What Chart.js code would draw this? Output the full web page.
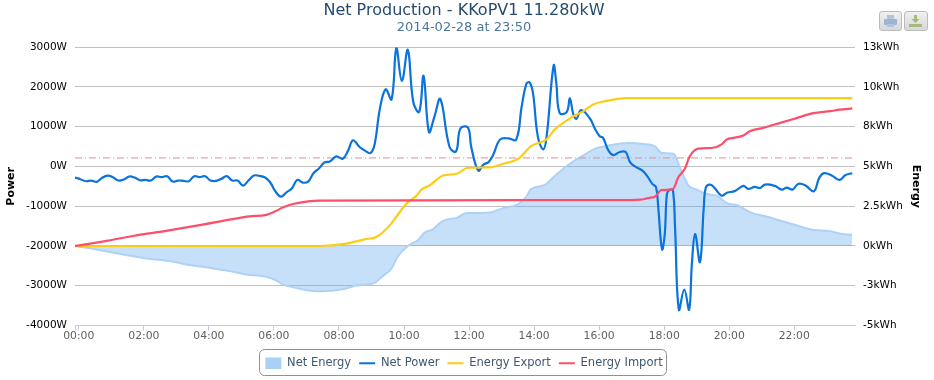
<!DOCTYPE html>
<html>
<head>
<meta charset="utf-8">
<title>Net Production</title>
<script src="https://cdn.jsdelivr.net/npm/chart.js@4"></script>
<style>
  html, body { margin: 0; padding: 0; background: #fff; }
  #wrap { position: relative; width: 934px; height: 380px; overflow: hidden; }
  canvas { display: block; }
  .btn {
    position: absolute; top: 11px; height: 18px; width: 21px;
    border: 1px solid #bcbcbc; border-radius: 3px;
    background: linear-gradient(#f0f0f0, #d8d8d8);
  }
  .btn svg { display: block; margin: 1px 2px; }
</style>
</head>
<body>
<div id="wrap">
  <canvas id="chart" width="934" height="380"></canvas>
  <div class="btn" style="left:879px">
    <svg width="17" height="16"><rect x="5" y="2" width="7" height="4" fill="#b3c4da"/><rect x="2" y="6" width="13" height="6" rx="1" fill="#9db3cf"/><rect x="5" y="11" width="7" height="3" fill="#b3c4da"/></svg>
  </div>
  <div class="btn" style="left:904px;width:22px">
    <svg width="17" height="16"><rect x="7" y="2" width="3" height="4" fill="#a8b87c"/><path d="M4.5 6h8l-4 4z" fill="#a8b87c"/><rect x="2" y="11" width="13" height="3" fill="#a8b87c"/></svg>
  </div>
</div>

<script>
// 제목
let titleText = "Net Production - KKoPV1 11.280kW";
let subtitleText = "2014-02-28 at 23:50";

// 축 눈금
let timeTicks = [-7, 0, 120, 240, 360, 480, 600, 720, 840, 960, 1080, 1200, 1320];
let timeLabels = ["", "00:00", "02:00", "04:00", "06:00", "08:00", "10:00", "12:00", "14:00", "16:00", "18:00", "20:00", "22:00"];
let energyTicks = [-5, -2.5, 0, 2.5, 5, 7.5, 10, 12.5];
let energyLabels = ["-5kWh", "-3kWh", "0kWh", "2.5kWh", "5kWh", "8kWh", "10kWh", "13kWh"];

// Net Power (분, W)
let powerMinutes = [-7, 3, 13, 23, 33, 43, 53, 63, 73, 83, 93, 103, 113, 123, 133, 143, 153, 163, 173, 183, 193, 203, 213, 223, 233, 243, 253, 263, 273, 283, 293, 303, 313, 323, 333, 343, 353, 363, 373, 383, 393, 403, 413, 423, 433, 443, 453, 463,
  475, 487, 497, 506, 518, 527, 538, 546, 555, 566, 577, 586, 596, 607, 617, 628, 636, 646, 656, 667, 684, 696, 704, 718, 724, 737, 747, 756, 764, 777, 792, 807, 817, 826, 832, 838, 847, 857, 863, 876, 881, 887, 900, 906, 912, 918, 927, 943, 952, 961, 967, 977, 986, 998,
  1009, 1017, 1026, 1041, 1050, 1058, 1065, 1069, 1076, 1081, 1085, 1090, 1096, 1100, 1107, 1117, 1126, 1131, 1137, 1146, 1153, 1157, 1165, 1173, 1186, 1196, 1210, 1226, 1235, 1247, 1257, 1266, 1284, 1297, 1306, 1317, 1327, 1340, 1356, 1366, 1375, 1389, 1404, 1414, 1427];
let powerValues = [-278, -320, -371, -354, -388, -287, -228, -270, -354, -329, -253, -278, -346, -337, -354, -253, -270, -245, -380, -354, -362, -371, -245, -270, -245, -354, -362, -312, -245, -354, -354, -480, -354, -228, -236, -270, -396, -632, -759, -649, -556, -337, -405, -380, -169, -50, 101, 126,
  253, 194, 405, 658, 489, 405, 337, 573, 1417, 1940, 1687, 2977, 2150, 2935, 1628, 1375, 2277, 869, 1250, 1695, 489, 380, 953, 978, 489, -101, 51, 110, 278, 675, 708, 675, 1501, 2091, 2108, 1838, 742, 430, 742, 2538, 2091, 1349, 1366, 1712, 1332, 1197, 1417, 1206, 953, 759, 725, 405, 287, 363,
  363, 110, 0, -118, -270, -438, -523, -1029, -2083, -1703, -691, -590, -590, -1535, -3600, -3095, -3600, -2462, -1703, -2403, -1029, -523, -455, -540, -734, -660, -620, -489, -565, -514, -540, -455, -489, -582, -531, -582, -439, -472, -624, -287, -169, -228, -337, -219, -169];

// Net Energy (분, kWh)
let energyMinutes = [-7, 38, 81, 130, 167, 204, 235, 278, 309, 346, 361, 377, 395, 420, 444, 490, 512, 546, 558, 577, 589, 607, 626, 638, 653, 669, 681, 696, 716, 731, 759, 783, 811, 827, 833, 860, 879, 906, 931, 953, 974, 1014, 1042, 1063, 1076, 1097, 1110, 1125, 1140, 1159, 1177, 1196, 1217, 1239, 1270, 1306, 1356, 1383, 1408, 1427];
let energyValues = [0, -0.25, -0.53, -0.8, -0.95, -1.2, -1.33, -1.58, -1.79, -1.94, -2.11, -2.43, -2.59, -2.78, -2.85, -2.7, -2.49, -2.32, -1.96, -1.41, -0.63, 0, 0.38, 0.84, 1.05, 1.52, 1.69, 1.75, 2.07, 2.07, 2.11, 2.38, 2.64, 3.16, 3.54, 3.84, 4.43, 5.17, 5.7, 6.12, 6.29, 6.48, 6.41, 6.27, 5.84, 5.8, 4.85, 3.8, 3.54, 3.27, 3.16, 2.7, 2.53, 2.11, 1.84, 1.48, 1.01, 0.95, 0.76, 0.7];

// Energy Export (분, kWh)
let exportMinutes = [-7, 444, 494, 527, 549, 574, 595, 607, 623, 632, 647, 672, 697, 718, 758, 783, 811, 835, 863, 878, 906, 931, 949, 971, 1011, 1427];
let exportValues = [0, 0, 0.15, 0.42, 0.57, 1.31, 2.26, 2.74, 3.16, 3.54, 3.8, 4.43, 4.54, 4.92, 4.94, 5.17, 5.49, 6.29, 6.71, 7.32, 8.02, 8.48, 8.9, 9.11, 9.3, 9.3];

// Energy Import (분, kWh)
let importMinutes = [-7, 51, 100, 161, 223, 284, 315, 346, 361, 377, 395, 423, 444, 1017, 1036, 1051, 1063, 1075, 1096, 1106, 1118, 1127, 1143, 1167, 1186, 1195, 1210, 1226, 1238, 1263, 1294, 1324, 1355, 1386, 1404, 1427];
let importValues = [0, 0.32, 0.63, 0.95, 1.31, 1.69, 1.86, 1.96, 2.15, 2.43, 2.64, 2.81, 2.85, 2.89, 2.91, 3.02, 3.1, 3.52, 3.57, 4.32, 4.85, 5.63, 6.12, 6.16, 6.39, 6.69, 6.81, 6.95, 7.22, 7.43, 7.74, 8.04, 8.35, 8.48, 8.57, 8.65];

// 점선 기준선
let refMinutes = [-7, 1432];
let refValues = [215, 215];

// (x, y) 형태로 묶기
function toPoints(xs, ys) {
  return xs.map((x, i) => ({ x: x, y: ys[i] }));
}

let fontName = "'DejaVu Sans'";

// 범례 둘레 상자
let legendBox = {
  id: "legendBox",
  afterDraw(chart) {
    let ctx = chart.ctx;
    ctx.save();
    ctx.strokeStyle = "#909090";
    ctx.lineWidth = 1;
    ctx.beginPath();
    ctx.roundRect(259.5, 349.5, 407, 26, 5);
    ctx.stroke();
    ctx.restore();
  },
};

new Chart(document.querySelector("#chart"), {
  type: "line",
  plugins: [legendBox],
  data: {
    datasets: [
      {
        label: "Net Energy",
        data: toPoints(energyMinutes, energyValues),
        yAxisID: "energy",
        order: 5,
        fill: { value: 0 },
        backgroundColor: "rgba(100,170,240,0.36)",
        borderColor: "#aed2f5",
        borderWidth: 2,
        cubicInterpolationMode: "monotone",
        pointStyle: "rect",
      },
      {
        label: "Net Power",
        data: toPoints(powerMinutes, powerValues),
        yAxisID: "power",
        order: 3,
        borderColor: "#0a73dc",
        borderWidth: 2.2,
        tension: 0.4,
        pointStyle: "line",
      },
      {
        label: "Energy Export",
        data: toPoints(exportMinutes, exportValues),
        yAxisID: "energy",
        order: 2,
        borderColor: "#fdcd14",
        borderWidth: 2.2,
        cubicInterpolationMode: "monotone",
        pointStyle: "line",
      },
      {
        label: "Energy Import",
        data: toPoints(importMinutes, importValues),
        yAxisID: "energy",
        order: 1,
        borderColor: "#ff4d6a",
        borderWidth: 2.2,
        cubicInterpolationMode: "monotone",
        pointStyle: "line",
      },
      {
        label: "",
        data: toPoints(refMinutes, refValues),
        yAxisID: "power",
        order: 4,
        borderColor: "#dd9090",
        borderWidth: 1,
        borderDash: [7, 3, 1, 3],
        tension: 0,
      },
    ],
  },
  options: {
    responsive: false,
    animation: false,
    events: [],
    elements: { point: { radius: 0 } },
    layout: { padding: { top: 2, right: 6, bottom: 1, left: 0 } },
    plugins: {
      tooltip: { enabled: false },
      title: {
        display: true,
        text: titleText,
        color: "#274b6d",
        font: { family: fontName, size: 16, weight: "normal", lineHeight: 1.1 },
        padding: { top: 0, bottom: 0 },
      },
      subtitle: {
        display: true,
        text: subtitleText,
        color: "#4d759e",
        font: { family: fontName, size: 13, weight: "normal" },
        padding: { top: 0, bottom: 12 },
      },
      legend: {
        position: "bottom",
        labels: {
          usePointStyle: true,
          pointStyleWidth: 16,
          padding: 8,
          color: "#3e576f",
          font: { family: fontName, size: 11.5 },
          filter: (item) => item.text !== "",
          sort: (a, b) => a.datasetIndex - b.datasetIndex,
          generateLabels(chart) {
            let items = Chart.defaults.plugins.legend.labels.generateLabels(chart);
            items.forEach((item) => {
              if (item.text === "Net Energy") {
                item.fillStyle = "#aad0f5";
                item.lineWidth = 0;
              }
            });
            return items;
          },
        },
      },
    },
    scales: {
      x: {
        type: "linear",
        min: -7,
        max: 1432,
        border: { color: "#c0d0e0" },
        grid: { drawOnChartArea: false, drawTicks: true, tickLength: 5, tickColor: "#c0d0e0" },
        afterBuildTicks(scale) {
          scale.ticks = timeTicks.map((v) => ({ value: v }));
        },
        afterFit(scale) {
          scale.height = 24;
        },
        ticks: {
          autoSkip: false,
          maxRotation: 0,
          padding: -1,
          color: "#606060",
          font: { family: fontName, size: 10.8 },
          callback: (v) => timeLabels[timeTicks.indexOf(v)],
        },
      },
      power: {
        position: "left",
        min: -4000,
        max: 3000,
        border: { display: false },
        grid: { color: "#c0c0c0", drawTicks: false },
        afterFit(scale) {
          scale.width = 75;
        },
        ticks: {
          stepSize: 1000,
          padding: 8,
          color: "#000",
          font: { family: fontName, size: 10.5 },
          callback: (v) => v + "W",
        },
        title: {
          display: true,
          text: "Power",
          color: "#000",
          font: { family: fontName, size: 11, weight: "bold" },
          padding: { top: 5, bottom: 0 },
        },
      },
      energy: {
        position: "right",
        min: -5,
        max: 12.5,
        border: { display: false },
        grid: { drawOnChartArea: false, drawTicks: false },
        afterBuildTicks(scale) {
          scale.ticks = energyTicks.map((v) => ({ value: v }));
        },
        afterFit(scale) {
          scale.width = 73;
        },
        ticks: {
          padding: 8,
          color: "#000",
          font: { family: fontName, size: 10.5 },
          callback: (v) => energyLabels[energyTicks.indexOf(v)],
        },
        title: {
          display: true,
          text: "Energy",
          color: "#000",
          font: { family: fontName, size: 11, weight: "bold" },
          padding: { top: 6, bottom: 0 },
        },
      },
    },
  },
});
</script>
</body>
</html>
